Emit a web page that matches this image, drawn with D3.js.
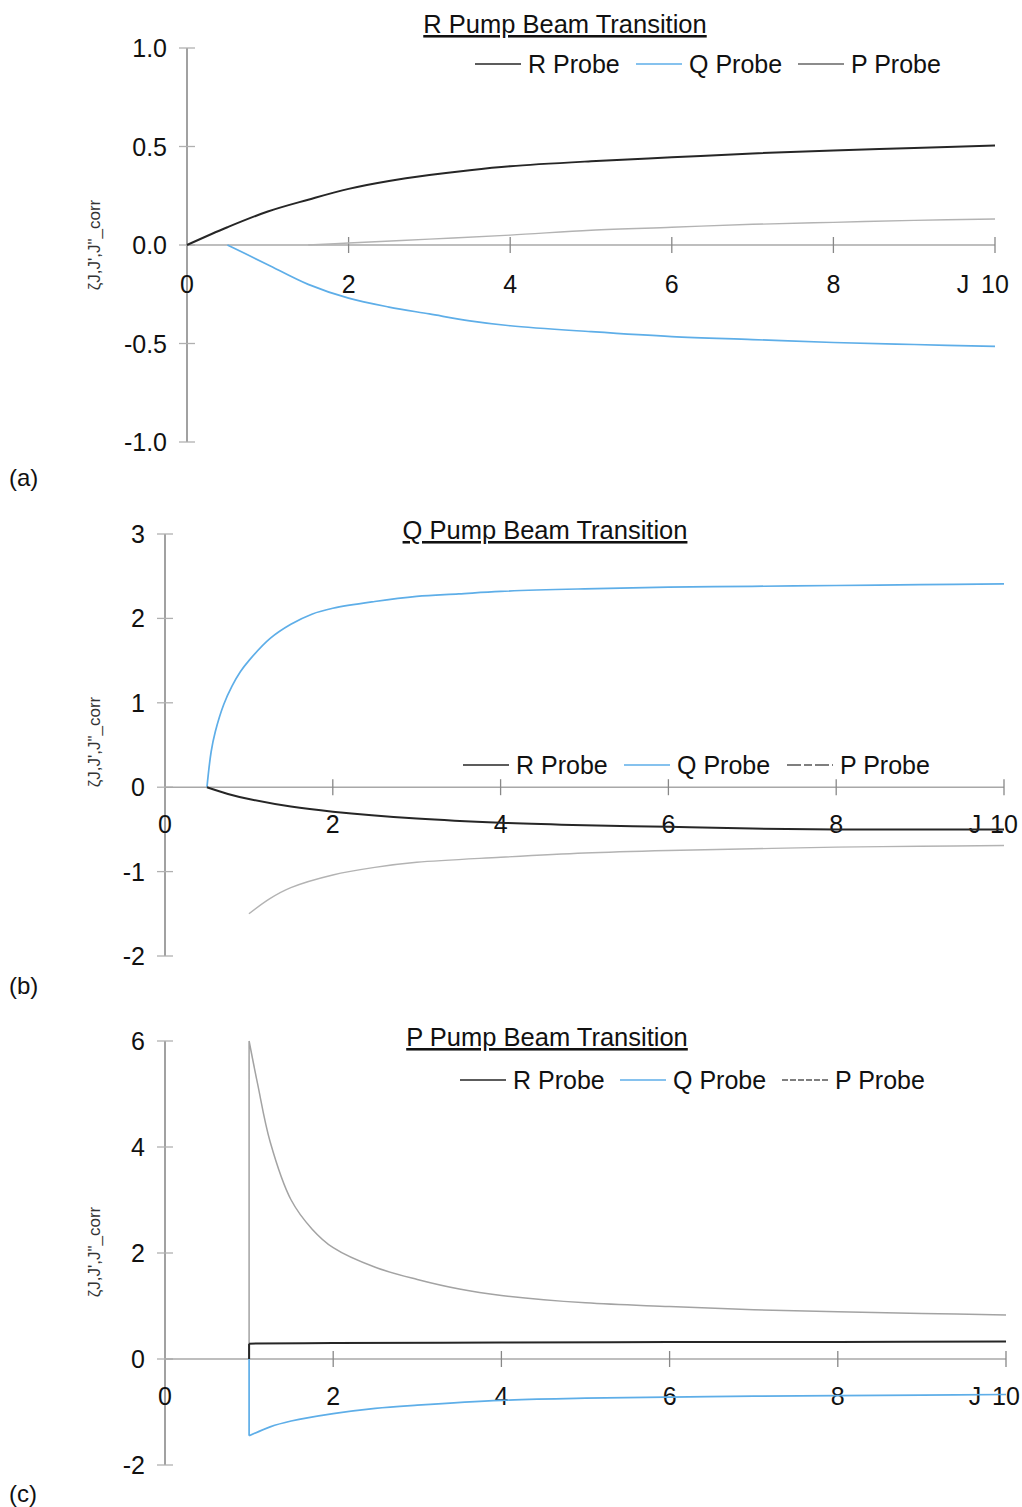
<!DOCTYPE html>
<html>
<head>
<meta charset="utf-8">
<script src="https://cdn.jsdelivr.net/npm/d3@7"></script>
<style>
  html, body { margin: 0; padding: 0; background: #fff; }
  svg { display: block; font-family: "Liberation Sans", Arial, sans-serif; }
</style>
</head>
<body>
<svg id="chart" width="1022" height="1507"></svg>
<script>
// Rotational-level correction factors, zeta(J, J', J'') vs J, for three pump transitions.
const xTicks = [0, 2, 4, 6, 8, 10];
const probeNames = ["R Probe", "Q Probe", "P Probe"];

// (a) R pump beam transition
const rPumpTicksY = [-1.0, -0.5, 0.0, 0.5, 1.0];
const rPumpR = [[0,0],[0.5,0.09],[1,0.17],[1.5,0.23],[2,0.285],[2.5,0.325],[3,0.355],[3.5,0.38],[4,0.40],[5,0.425],[6,0.445],[7,0.465],[8,0.48],[9,0.492],[10,0.505]];
const rPumpQ = [[0.5,0],[0.75,-0.05],[1,-0.1],[1.5,-0.2],[2,-0.27],[2.5,-0.315],[3,-0.35],[3.5,-0.385],[4,-0.41],[5,-0.44],[6,-0.465],[7,-0.48],[8,-0.495],[9,-0.505],[10,-0.515]];
const rPumpP = [[1.5,0],[2,0.01],[3,0.03],[4,0.05],[5,0.075],[6,0.09],[7,0.105],[8,0.115],[9,0.125],[10,0.132]];

// (b) Q pump beam transition
const qPumpTicksY = [-2, -1, 0, 1, 2, 3];
const qPumpR = [[0.5,0],[0.75,-0.08],[1,-0.14],[1.5,-0.23],[2,-0.29],[3,-0.37],[4,-0.42],[5,-0.45],[6,-0.47],[7,-0.49],[8,-0.5],[9,-0.5],[10,-0.5]];
const qPumpQ = [[0.5,0],[0.55,0.42],[0.6,0.66],[0.7,0.98],[0.8,1.2],[0.9,1.37],[1,1.5],[1.25,1.76],[1.5,1.93],[1.75,2.05],[2,2.12],[2.5,2.2],[3,2.26],[3.5,2.29],[4,2.32],[5,2.35],[6,2.37],[7,2.38],[8,2.39],[9,2.40],[10,2.41]];
const qPumpP = [[1,-1.5],[1.25,-1.32],[1.5,-1.19],[2,-1.04],[2.5,-0.95],[3,-0.89],[4,-0.83],[5,-0.78],[6,-0.75],[7,-0.73],[8,-0.71],[9,-0.70],[10,-0.69]];

// (c) P pump beam transition
const pPumpTicksY = [-2, 0, 2, 4, 6];
const pPumpR = [[1,0],[1,0.29],[2,0.30],[4,0.31],[6,0.32],[8,0.32],[10,0.33]];
const pPumpQ = [[1,0],[1,-1.45],[1.25,-1.28],[1.5,-1.17],[2,-1.03],[2.5,-0.93],[3,-0.87],[4,-0.78],[5,-0.74],[6,-0.72],[7,-0.70],[8,-0.69],[9,-0.68],[10,-0.67]];
const pPumpP = [[1,0],[1,6],[1.1,5.2],[1.25,4.1],[1.5,3.0],[1.75,2.45],[2,2.1],[2.5,1.73],[3,1.5],[3.5,1.32],[4,1.2],[5,1.06],[6,0.99],[7,0.93],[8,0.89],[9,0.86],[10,0.83]];

const svg = d3.select("#chart");
const axisColor = "#8a8a8a";
const colR = "#262626", colQ = "#5eaee8";
const hyphen = f => v => f(v).replace("\u2212", "-");

const panels = [
  { title: "R Pump Beam Transition", tag: "(a)", x0: 187, x1: 995, yDom: [-1, 1], yRng: [442, 48],
    yTicks: rPumpTicksY, yFmt: hyphen(d3.format(".1f")), xLabY: 293, jX: 963, titleX: 565, titleY: 33, tagY: 486,
    legendY: 64, legendX: [475, 636, 798], yTitleY: 245, pColor: "#b3b3b3", pWidth: 1.4, legendPColor: "#666", legendPDash: null,
    series: [rPumpR, rPumpQ, rPumpP] },
  { title: "Q Pump Beam Transition", tag: "(b)", x0: 165, x1: 1004, yDom: [-2, 3], yRng: [956, 534],
    yTicks: qPumpTicksY, yFmt: hyphen(d3.format("d")), xLabY: 833, jX: 975, titleX: 545, titleY: 539, tagY: 994,
    legendY: 765, legendX: [463, 624, 787], yTitleY: 742, pColor: "#b3b3b3", pWidth: 1.4, legendPColor: "#555", legendPDash: "14,3,8,3",
    series: [qPumpR, qPumpQ, qPumpP] },
  { title: "P Pump Beam Transition", tag: "(c)", x0: 165, x1: 1006, yDom: [-2, 6], yRng: [1465, 1041],
    yTicks: pPumpTicksY, yFmt: hyphen(d3.format("d")), xLabY: 1405, jX: 975, titleX: 547, titleY: 1046, tagY: 1502,
    legendY: 1080, legendX: [460, 620, 782], yTitleY: 1252, pColor: "#a3a3a3", pWidth: 1.5, legendPColor: "#555", legendPDash: "6,2",
    series: [pPumpR, pPumpQ, pPumpP] }
];

panels.forEach(p => {
  const x = d3.scaleLinear().domain([0, 10]).range([p.x0, p.x1]);
  const y = d3.scaleLinear().domain(p.yDom).range(p.yRng);
  const g = svg.append("g");

  // y axis line with crossing ticks
  g.append("line").attr("x1", x(0)).attr("x2", x(0)).attr("y1", y(p.yDom[1])).attr("y2", y(p.yDom[0]))
    .attr("stroke", axisColor).attr("stroke-width", 1.6);
  p.yTicks.forEach(t => {
    g.append("line").attr("x1", x(0) - 8).attr("x2", x(0) + 8).attr("y1", y(t)).attr("y2", y(t))
      .attr("stroke", "#b0b0b0").attr("stroke-width", 1.3);
    g.append("text").attr("x", x(0) - 20).attr("y", y(t)).attr("dy", "0.36em")
      .attr("text-anchor", "end").attr("font-size", 25).attr("fill", "#111").text(p.yFmt(t));
  });

  // x axis along zero with crossing ticks
  g.append("line").attr("x1", x(0)).attr("x2", x(10)).attr("y1", y(0)).attr("y2", y(0))
    .attr("stroke", "#a8a8a8").attr("stroke-width", 1.6);
  xTicks.forEach(t => {
    if (t > 0) {
      g.append("line").attr("x1", x(t)).attr("x2", x(t)).attr("y1", y(0) - 8).attr("y2", y(0) + 8)
        .attr("stroke", "#888").attr("stroke-width", 1.3);
    }
    g.append("text").attr("x", x(t)).attr("y", p.xLabY).attr("text-anchor", "middle")
      .attr("font-size", 25).attr("fill", "#111").text(t);
  });
  g.append("text").attr("x", p.jX).attr("y", p.xLabY).attr("text-anchor", "middle")
    .attr("font-size", 25).attr("fill", "#111").text("J");

  // y axis title
  g.append("text").attr("transform", `translate(100,${p.yTitleY}) rotate(-90)`)
    .attr("text-anchor", "middle").attr("font-size", 17).attr("fill", "#333")
    .text("ζJ,J',J\"_corr");

  // curves: a vertical jump at the onset is drawn straight, the rest smoothly
  const straight = d3.line().x(d => x(d[0])).y(d => y(d[1]));
  const smooth = d3.line().x(d => x(d[0])).y(d => y(d[1])).curve(d3.curveCatmullRom.alpha(0.5));
  const styles = [
    { color: colR, w: 2.0 },
    { color: colQ, w: 1.7 },
    { color: p.pColor, w: p.pWidth }
  ];
  [2, 1, 0].forEach(i => {
    const s = p.series[i];
    let k = 0;
    while (k + 1 < s.length && s[k + 1][0] === s[k][0]) k++;
    const d = (k > 0 ? straight(s.slice(0, k + 1)) : "") + smooth(s.slice(k));
    g.append("path").attr("d", d).attr("fill", "none")
      .attr("stroke", styles[i].color).attr("stroke-width", styles[i].w)
      .attr("stroke-linejoin", "round");
  });

  // title
  g.append("text").attr("x", p.titleX).attr("y", p.titleY).attr("text-anchor", "middle")
    .attr("font-size", 25.5).attr("fill", "#111").attr("text-decoration", "underline").text(p.title);

  // legend
  const legColors = [colR, colQ, p.legendPColor];
  probeNames.forEach((name, i) => {
    const lx = p.legendX[i];
    const ln = g.append("line").attr("x1", lx).attr("x2", lx + 46).attr("y1", p.legendY).attr("y2", p.legendY)
      .attr("stroke", legColors[i]).attr("stroke-width", 1.6);
    if (i === 2 && p.legendPDash) ln.attr("stroke-dasharray", p.legendPDash);
    g.append("text").attr("x", lx + 53).attr("y", p.legendY).attr("dy", "0.36em")
      .attr("font-size", 25).attr("fill", "#111").text(name);
  });

  // panel tag
  g.append("text").attr("x", 9).attr("y", p.tagY).attr("font-size", 24).attr("fill", "#111").text(p.tag);
});
</script>
</body>
</html>
